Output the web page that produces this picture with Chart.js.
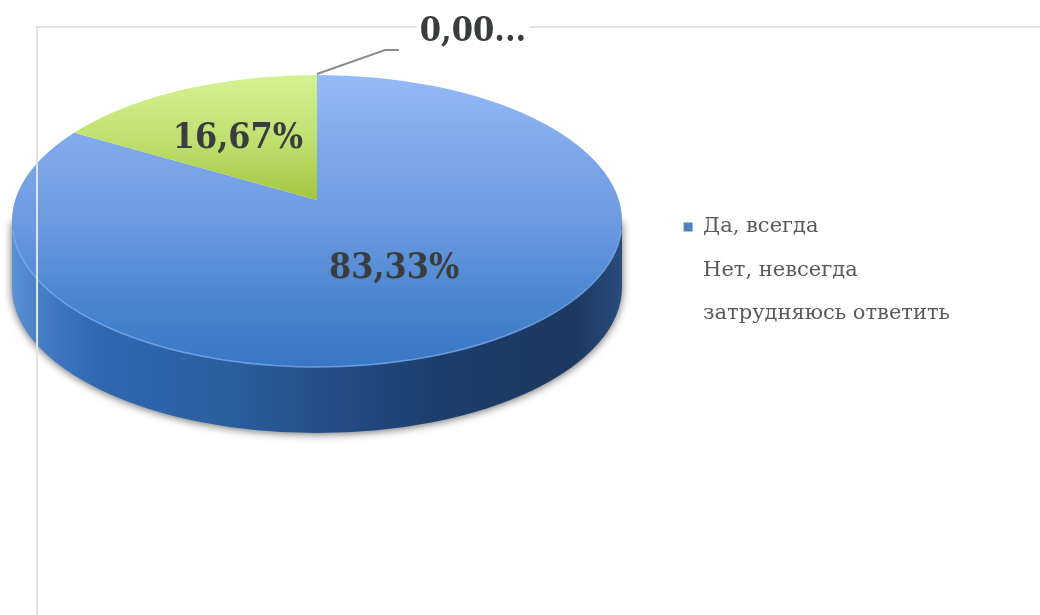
<!DOCTYPE html>
<html><head><meta charset="utf-8">
<style>html,body{margin:0;padding:0;background:#fff}#w{width:1040px;height:615px}canvas{display:block;filter:blur(0.5px)}</style>
<script src="https://cdn.jsdelivr.net/npm/chart.js@4"></script></head>
<body><div id="w"><canvas id="c" width="1040" height="615"></canvas></div>
<script>
const categories = ['Да, всегда', 'Нет, невсегда', 'затрудняюсь ответить'];
const values = [83.33, 16.67, 0.00];
const legendSwatches = ['#4f81bd', 'rgba(0,0,0,0)', 'rgba(0,0,0,0)'];
const labelFont = 'bold 35.5px "DejaVu Serif Condensed","DejaVu Serif",serif';
const smallLabelFont = 'bold 34px "DejaVu Serif Condensed","DejaVu Serif",serif';
const labelColor = '#3a3d3d';

// 3D look: visible top ellipse, wedge apex, wall depth
const top3d = {cx:317, cy:221, rx:305, ry:146, depth:66, apexY:200, projX:381, projY:183};

function proj(chart){
  const a = chart.getDatasetMeta(0).data[0];
  const R = a ? a.outerRadius : 100;
  return {ax:a?a.x:0, ay:a?a.y:0, R, sx:top3d.projX/R, sy:top3d.projY/R};
}
function toScreen(p, x, y){
  return {x: top3d.cx + (x-p.ax)*p.sx, y: top3d.apexY + (y-p.ay)*p.sy};
}
function vGrad(c, stops, y0, y1){
  const ch = c.chart, A = ch.chartArea;
  if(!A) return stops[0];
  const R = Math.min(A.right-A.left, A.bottom-A.top)/2, ay=(A.top+A.bottom)/2;
  const sy = top3d.projY/R;
  const g = ch.ctx.createLinearGradient(0, ay+(y0-top3d.apexY)/sy, 0, ay+(y1-top3d.apexY)/sy);
  stops.forEach((s,i)=>g.addColorStop(i/(stops.length-1), s));
  return g;
}
const sliceFill = c=>{
  if(c.dataIndex===0) return vGrad(c,['#93bbf8','#7fa8ea','#6d9ae0','#4c87d0','#3877c6'],76,367);
  if(c.dataIndex===1) return vGrad(c,['#d4f292','#bfe070','#a0c43c'],76,205);
  return vGrad(c,['#e2e2e2','#b0b0b0'],76,205);
};

const pie3d = {
  id:'pie3d',
  beforeDatasetsDraw(chart){
    const ctx = chart.ctx, t = top3d, p = proj(chart);
    ctx.save();
    ctx.shadowColor='rgba(0,0,0,0.6)'; ctx.shadowBlur=9; ctx.shadowOffsetY=1;
    const g = ctx.createLinearGradient(t.cx-t.rx,0,t.cx+t.rx,0);
    [['0','#5a90d4'],['0.07','#3f78c0'],['0.14','#2f68b0'],['0.35','#2b5f9f'],['0.5','#24508a'],['0.7','#1c3d6c'],['0.92','#1b3860'],['1','#2a4c7c']]
      .forEach(s=>g.addColorStop(+s[0],s[1]));
    ctx.fillStyle=g;
    ctx.beginPath();
    ctx.moveTo(t.cx-t.rx,t.cy);
    ctx.lineTo(t.cx-t.rx,t.cy+t.depth);
    ctx.ellipse(t.cx,t.cy+t.depth,t.rx,t.ry,0,Math.PI,0,true);
    ctx.lineTo(t.cx+t.rx,t.cy);
    ctx.closePath();
    ctx.fill();
    ctx.restore();
    ctx.save();
    ctx.beginPath();
    ctx.ellipse(t.cx,t.cy,t.rx,t.ry,0,0,Math.PI*2);
    ctx.clip();
    ctx.translate(t.cx,t.apexY);
    ctx.scale(p.sx,p.sy);
    ctx.translate(-p.ax,-p.ay);
  },
  afterDatasetsDraw(chart){
    const ctx = chart.ctx, t = top3d, p = proj(chart);
    ctx.restore();
    // rim highlight on the front of the disc
    ctx.save();
    ctx.strokeStyle='rgba(130,175,240,0.75)';
    ctx.lineWidth=1.5;
    ctx.beginPath();
    ctx.ellipse(t.cx,t.cy,t.rx,t.ry,0,Math.PI*0.02,Math.PI*0.98);
    ctx.stroke();
    ctx.restore();
    // plot frame
    ctx.save();
    ctx.strokeStyle='#e2e2e2'; ctx.lineWidth=2;
    ctx.beginPath();
    ctx.moveTo(37,615); ctx.lineTo(37,27); ctx.lineTo(1040,27);
    ctx.stroke();
    ctx.restore();
    // data labels
    ctx.save();
    ctx.font=labelFont; ctx.textAlign='center'; ctx.textBaseline='middle'; ctx.fillStyle=labelColor;
    chart.getDatasetMeta(0).data.forEach((a,i)=>{
      const txt = values[i].toFixed(2).replace('.',',');
      const mid = (a.startAngle+a.endAngle)/2;
      if(values[i] > 0){
        const s = toScreen(p, a.x+Math.cos(mid)*a.outerRadius*0.41, a.y+Math.sin(mid)*a.outerRadius*0.41);
        ctx.fillText(txt+'%', s.x-1, s.y+4);
      } else {
        const ex = t.cx, ey = t.cy-t.ry;
        ctx.strokeStyle='#8c8c8c'; ctx.lineWidth=2;
        ctx.beginPath();
        ctx.moveTo(ex,ey-1); ctx.lineTo(ex+68,ey-25); ctx.lineTo(ex+82,ey-25);
        ctx.stroke();
        ctx.font=smallLabelFont;
        const w = ctx.measureText(txt.slice(0,4)+'...').width;
        ctx.fillStyle='#fff';
        ctx.fillRect(ex+156-w/2-3, ey-62, w+6, 34);
        ctx.fillStyle=labelColor;
        ctx.fillText(txt.slice(0,4)+'...', ex+156, ey-43);
      }
    });
    ctx.restore();
  }
};

new Chart(document.getElementById('c'),{
  type:'pie',
  data:{labels:categories,datasets:[{data:values,backgroundColor:sliceFill,borderWidth:0,hoverOffset:0}]},
  plugins:[pie3d],
  options:{
    responsive:false,animation:false,
    layout:{padding:{top:194,right:80,bottom:10,left:10}},
    plugins:{
      tooltip:{enabled:false},
      legend:{
        position:'right',align:'start',
        labels:{
          font:{family:'"DejaVu Serif",serif',size:21},
          color:'#5a5a5a',boxWidth:9,boxHeight:9,padding:22.5,
          generateLabels(){return categories.map((t,i)=>({text:t,fillStyle:legendSwatches[i],strokeStyle:legendSwatches[i],lineWidth:0,index:i,fontColor:'#5a5a5a'}));}
        }
      }
    }
  }
});
</script></body></html>
